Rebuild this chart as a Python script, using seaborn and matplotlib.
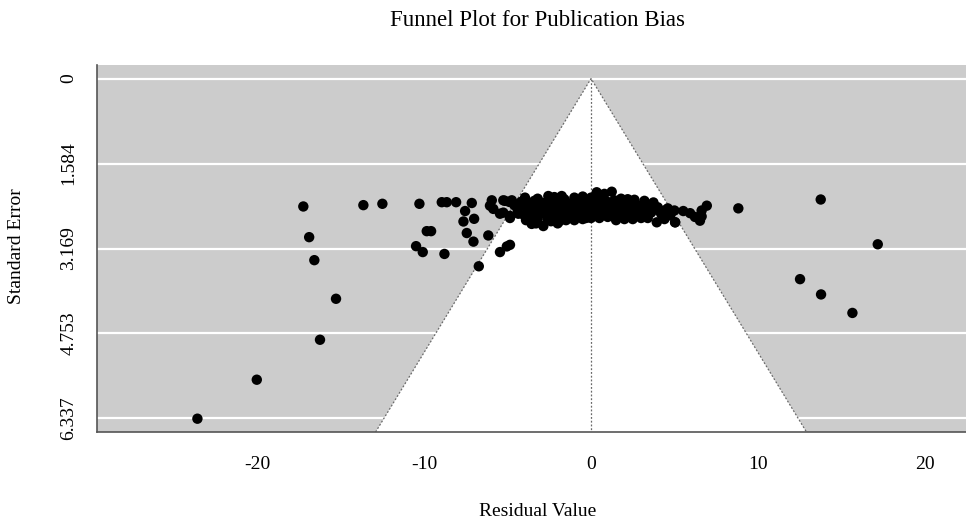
import numpy as np
import pandas as pd
import matplotlib
matplotlib.use("Agg")
import matplotlib.pyplot as plt
import seaborn as sns

# ---- data ----
residual = [
    # far left outliers
    -23.6, -20.04, -16.25, -15.29, -16.59, -16.9, -17.25, -13.65, -12.51,
    # left group
    -10.29, -8.95, -8.65, -8.09, -7.15, -7.55, -7.65, -7.01, -9.85, -9.59,
    -7.45, -7.05, -10.49, -10.09, -8.79, -6.16, -6.73, -5.46, -5.05, -4.86,
    -5.95, -6.06, -5.86, -5.46, -5.26, -4.75, -4.86, -4.36,
    -5.16, -5.26, -4.86,
    # dense band -5..-3
    -4.9, -4.6, -4.4, -4.2, -4.0, -3.9, -3.7, -3.6, -3.5, -3.4, -3.3, -3.2, -3.1, -3.0,
    # -3..-1
    -2.9, -2.8, -2.7, -2.6, -2.5, -2.4, -2.3, -2.2, -2.1, -2.0,
    -1.9, -1.8, -1.7, -1.6, -1.5, -1.4, -1.3, -1.2, -1.1, -1.0,
    -2.85, -2.45, -2.05, -1.65, -1.25, -2.65, -2.25, -1.85, -1.45, -1.05,
    # -1..1
    -0.9, -0.8, -0.7, -0.6, -0.5, -0.4, -0.3, -0.2, -0.1, 0.0,
    0.1, 0.2, 0.3, 0.4, 0.5, 0.6, 0.7, 0.8, 0.9, 1.0,
    -0.85, -0.45, -0.05, 0.35, 0.75,
    # 1..3
    1.1, 1.2, 1.3, 1.4, 1.5, 1.6, 1.7, 1.8, 1.9, 2.0,
    2.1, 2.2, 2.3, 2.4, 2.5, 2.6, 2.7, 2.8, 2.9, 3.0,
    # 3..5
    3.1, 3.2, 3.3, 3.5, 3.6, 3.8, 4.0, 4.2, 4.4, 4.6, 4.8, 5.0,
    # top edge of band
    0.34, 1.24, 0.8, -1.76, -2.56, -3.96, -1.0, 0.0, 1.8, 2.6, 3.74,
    -3.2, -2.2, -0.5, 0.5, 2.2, 3.2,
    # bottom edge of band
    -3.56, -2.86, -2.0, -1.0, 0.0, 1.0, 2.0, 3.94, 5.04, 3.0,
    -3.9, -3.2, -2.4, -1.5, -0.5, 0.5, 1.5, 2.5, 3.4, 4.4,
    # right of band
    4.34, 4.74, 5.04, 5.53, 5.94, 6.23, 6.53, 6.63, 6.63, 6.94,
    # right outliers
    8.83, 13.77, 17.19, 12.53, 13.79, 15.67,
]
std_error = [
    6.342, 5.615, 4.87, 4.106, 3.386, 2.957, 2.385, 2.36, 2.335,
    2.335, 2.305, 2.305, 2.305, 2.32, 2.47, 2.665, 2.615, 2.845, 2.845,
    2.88, 3.04, 3.125, 3.235, 3.27, 2.925, 3.5, 3.235, 3.13, 3.10,
    2.27, 2.37, 2.43, 2.52, 2.27, 2.27, 2.60, 2.52,
    2.28, 2.50, 2.56,
    2.30, 2.36, 2.45, 2.30, 2.55, 2.40, 2.32, 2.62, 2.47, 2.28, 2.70, 2.38, 2.53, 2.44,
    2.32, 2.50, 2.40, 2.62, 2.28, 2.46, 2.35, 2.55, 2.42, 2.30,
    2.66, 2.38, 2.50, 2.25, 2.44, 2.58, 2.34, 2.48, 2.40, 2.30,
    2.44, 2.38, 2.48, 2.36, 2.42, 2.30, 2.45, 2.52, 2.32, 2.52,
    2.44, 2.36, 2.55, 2.28, 2.46, 2.40, 2.60, 2.33, 2.48, 2.40,
    2.55, 2.30, 2.44, 2.36, 2.50, 2.26, 2.42, 2.35, 2.47, 2.30,
    2.30, 2.52, 2.28, 2.52, 2.48,
    2.40, 2.33, 2.50, 2.27, 2.44, 2.36, 2.52, 2.40, 2.32, 2.46,
    2.38, 2.55, 2.30, 2.44, 2.40, 2.50, 2.35, 2.46, 2.40, 2.53,
    2.38, 2.47, 2.42, 2.36, 2.50, 2.44, 2.40, 2.52, 2.46, 2.42, 2.50, 2.46,
    2.12, 2.11, 2.15, 2.19, 2.19, 2.22, 2.22, 2.22, 2.24, 2.26, 2.31,
    2.24, 2.21, 2.20, 2.18, 2.25, 2.28,
    2.71, 2.75, 2.70, 2.64, 2.60, 2.58, 2.62, 2.68, 2.68, 2.60,
    2.64, 2.62, 2.66, 2.64, 2.62, 2.60, 2.64, 2.62, 2.60, 2.62,
    2.49, 2.55, 2.68, 2.47, 2.51, 2.58, 2.65, 2.46, 2.57, 2.37,
    2.42, 2.255, 3.09, 3.74, 4.025, 4.37,
]
x_ticks = [-20, -10, 0, 10, 20]
se_ticks = [0, 1.584, 3.169, 4.753, 6.337]
se_tick_labels = ["0", "1.584", "3.169", "4.753", "6.337"]

title = "Funnel Plot for Publication Bias"
xlabel = "Residual Value"
ylabel = "Standard Error"

df = pd.DataFrame({"residual": residual, "se": std_error})

# ---- style ----
sns.set_theme(style="white")
plt.rcParams["font.family"] = ["Liberation Serif", "DejaVu Serif"]
plt.rcParams["text.color"] = "black"

W, H = 966, 525
fig = plt.figure(figsize=(W / 100, H / 100), dpi=100)
left, right, top, bottom = 97, 966, 65, 432
ax = fig.add_axes([left / W, 1 - bottom / H, (right - left) / W, (bottom - top) / H])

ax.set_facecolor("#CCCCCC")
xlim = (-29.62, 22.48)
ylim = (6.59, -0.253)
ax.set_xlim(*xlim)
ax.set_ylim(*ylim)

# funnel (95% pseudo-confidence region around 0)
ybot = ylim[0]
fx = [-1.96 * ybot, 0, 1.96 * ybot]
fy = [ybot, 0, ybot]
ax.fill(fx, fy, color="white", zorder=1, lw=0)
for v in se_ticks:
    ax.axhline(v, color="white", lw=1.6, zorder=1.5)
ax.plot(fx, fy, color="#6a6a6a", ls=(0, (1.5, 1.5)), lw=0.9, zorder=2)
ax.plot([0, 0], [0, ybot], color="#6a6a6a", ls=(0, (1.5, 1.5)), lw=0.9, zorder=2)

sns.scatterplot(data=df, x="residual", y="se", color="black", s=56,
                edgecolor="none", ax=ax, zorder=3, legend=False)

ax.set_xticks(x_ticks)
ax.set_xticklabels([str(t) for t in x_ticks])
ax.set_yticks(se_ticks)
ax.set_yticklabels(se_tick_labels, rotation=90, va="center")
ax.tick_params(axis="both", direction="out", length=8, width=1,
               color="#555555", labelsize=14, labelcolor="black")
ax.tick_params(axis="x", pad=9)
ax.tick_params(axis="y", pad=6)

for s in ["top", "right"]:
    ax.spines[s].set_visible(False)
for s in ["left", "bottom"]:
    ax.spines[s].set_color("#555555")
    ax.spines[s].set_linewidth(1.2)

ax.set_xlabel("")
ax.set_ylabel("")
fig.text(538 / W, 1 - 20 / H, title, ha="center", va="center", fontsize=16.5,
         color="black")
fig.text(538 / W, 1 - 512 / H, xlabel, ha="center", va="center", fontsize=14,
         color="black")
fig.text(17 / W, 1 - 246 / H, ylabel, ha="center", va="center", fontsize=14,
         rotation=90, color="black")

fig.savefig("out.png", dpi=100)
